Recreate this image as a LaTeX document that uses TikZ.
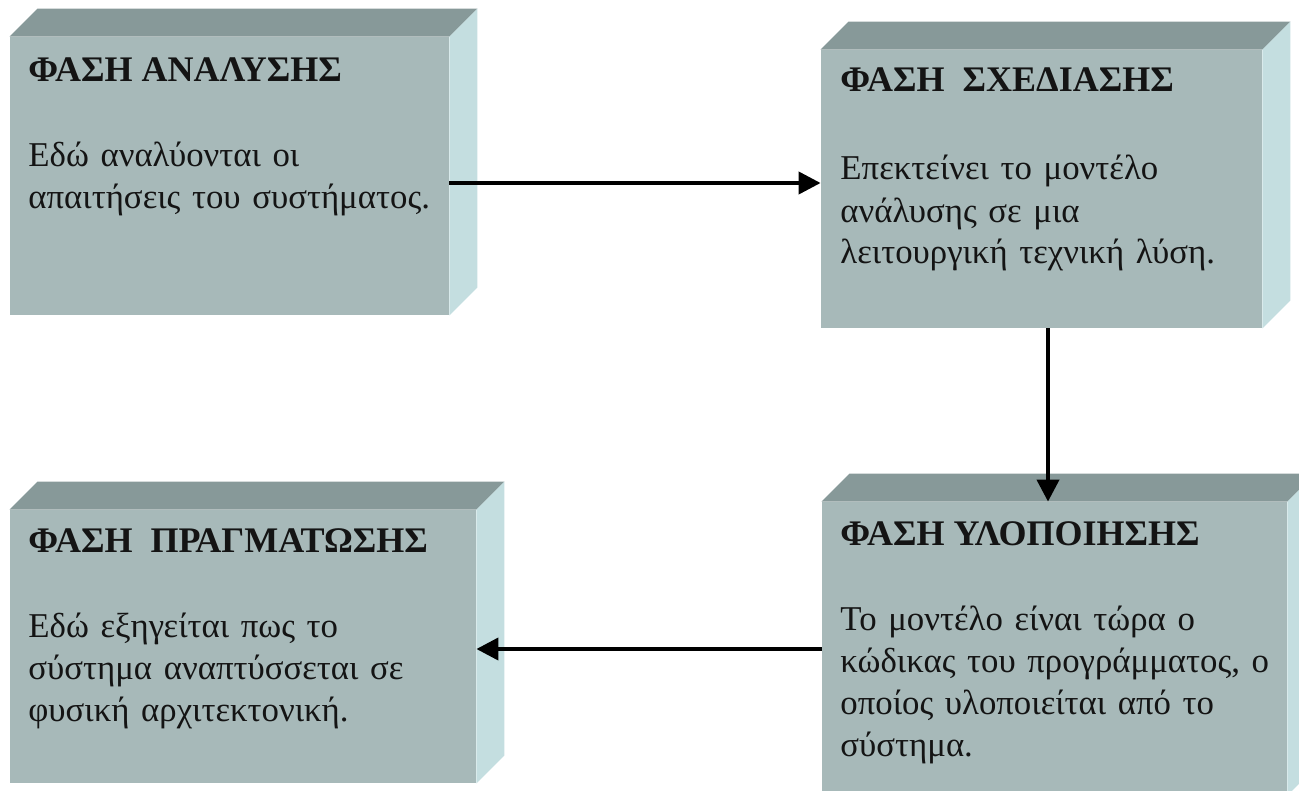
\documentclass[tikz,border=0pt]{standalone}
\usepackage{fontspec}
\setmainfont{Liberation Serif}
\usetikzlibrary{arrows.meta}
\definecolor{frontc}{RGB}{167,185,185}
\definecolor{topc}{RGB}{135,153,153}
\definecolor{sidec}{RGB}{196,222,224}
\definecolor{inkc}{RGB}{20,20,20}

% top and right faces of a block whose front face is node #1
\newcommand\blockfaces[1]{%
  \fill[topc] (#1.north west) -- ++(14pt,14pt) -- ([shift={(14pt,14pt)}]#1.north east) -- (#1.north east) -- cycle;
  \fill[sidec] (#1.north east) -- ++(14pt,14pt) -- ([shift={(14pt,14pt)}]#1.south east) -- (#1.south east) -- cycle;}

\begin{document}
\begin{tikzpicture}[x=0.5pt,y=-0.5pt,
  front/.style={rectangle, draw=none, inner sep=0pt, fill=frontc},
  phasetitle/.style={anchor=base west, inner sep=0pt, text=inkc,
    font=\fontsize{18}{21}\selectfont\bfseries},
  phasebody/.style={anchor=base west, inner sep=0pt, text=inkc, text width=230pt,
    align=left, font=\fontsize{17.4}{21}\selectfont},
  flow/.style={line width=2pt, draw=black, -{Triangle[length=11pt,width=11pt]}}]
\useasboundingbox (0,0) rectangle (1299,791);
\clip (0,0) rectangle (1299,791);

% front faces
\node[front, minimum width=219.5pt, minimum height=139pt] (ana) at (229.5,176) {};
\node[front, minimum width=220.5pt, minimum height=139pt] (sch) at (1041.5,189) {};
\node[front, minimum width=233pt, minimum height=136.5pt] (pra) at (243,646.5) {};
\node[front, minimum width=232.5pt, minimum height=146.5pt] (ylo) at (1054.5,648.5) {};

\blockfaces{ana}
\blockfaces{sch}
\blockfaces{pra}
\blockfaces{ylo}

% texts
\node[phasetitle] (anaT) at (28,82) {ΦΑΣΗ ΑΝΑΛΥΣΗΣ};
\node[phasebody] (anaB) at (28,167) {Εδώ αναλύονται οι\\απαιτήσεις του συστήματος.};

\node[phasetitle] (schT) at (840,92) {ΦΑΣΗ\ \ ΣΧΕΔΙΑΣΗΣ};
\node[phasebody] (schB) at (840,180) {Επεκτείνει το μοντέλο\\ανάλυσης σε μια\\λειτουργική τεχνική λύση.};

\node[phasetitle] (praT) at (28,552) {ΦΑΣΗ\ \ ΠΡΑΓΜΑΤΩΣΗΣ};
\node[phasebody] (praB) at (28,637) {Εδώ εξηγείται πως το\\σύστημα αναπτύσσεται σε\\φυσική αρχιτεκτονική.};

\node[phasetitle] (yloT) at (840,545) {ΦΑΣΗ ΥΛΟΠΟΙΗΣΗΣ};
\node[phasebody] (yloB) at (840,630) {Το μοντέλο είναι τώρα ο\\κώδικας του προγράμματος, ο\\οποίος υλοποιείται από το\\σύστημα.};

% connectors
\draw[flow] (ana.east |- 0,183) -- (sch.west |- 0,183);
\draw[flow] (sch.south -| 1048,0) -- (ylo.north -| 1048,0);
\draw[flow] (ylo.west |- 0,649) -- (pra.east |- 0,649);
\end{tikzpicture}
\end{document}
